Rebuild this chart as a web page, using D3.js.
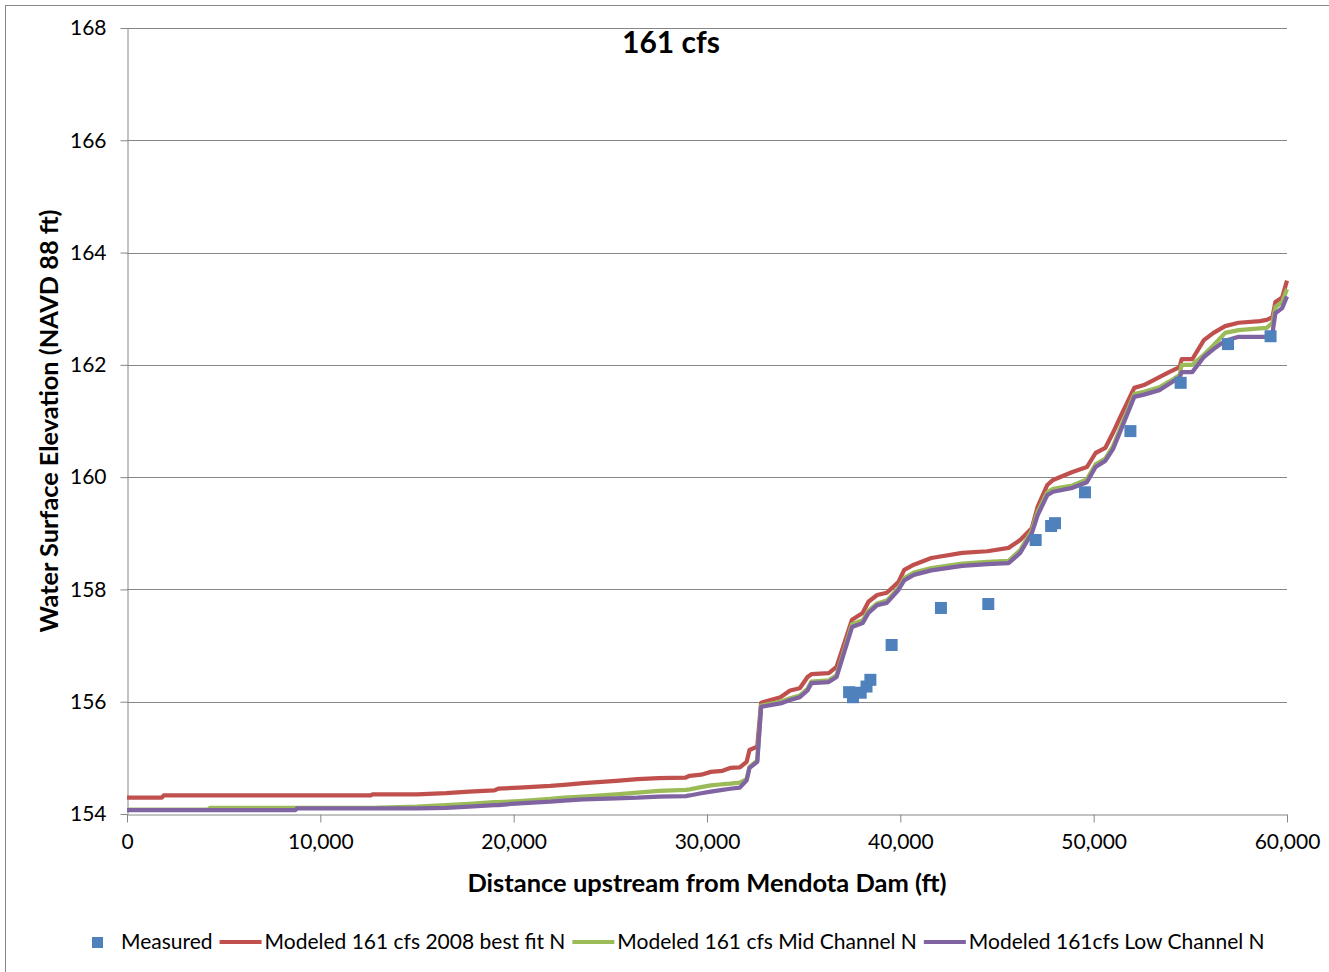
<!DOCTYPE html>
<html>
<head>
<meta charset="utf-8">
<script src="https://cdn.jsdelivr.net/npm/d3@7"></script>
<style>
  body { margin: 0; background: #fff; }
  text { font-family: Lato, "Open Sans", sans-serif; fill: #000; }
</style>
</head>
<body>
<svg width="1329" height="972"></svg>
<script>
// measured water surface points
var measuredDist = [37350, 37550, 37950, 38250, 38450, 39550, 42100, 44550, 47000, 47800, 48000, 49550, 51900, 54500, 56950, 59150];
var measuredElev = [156.17, 156.08, 156.16, 156.27, 156.39, 157.01, 157.67, 157.74, 158.88, 159.13, 159.18, 159.73, 160.82, 161.68, 162.37, 162.51];

// model stations (ft upstream of dam)
var stations = [0, 1800, 1900, 4200, 4300, 8700, 8800, 12600, 12700, 15000, 16500, 17700, 19000, 19200, 20300, 21900,
  22600, 23600, 25300, 26400, 27500, 28900, 29100, 29700, 30200, 30800, 31200, 31700, 32050, 32200, 32600, 32800,
  33800, 34300, 34800, 35200, 35400, 36300, 36700, 37500, 38050, 38350, 38800, 39300, 39900, 40200, 40700, 41600,
  43200, 44500, 45600, 46200, 46800, 47100, 47600, 47900, 48900, 49650, 50100, 50600, 51000, 51350, 52100, 52600,
  53400, 53900, 54450, 54550, 55100, 55700, 56200, 56800, 57500, 58600, 58950, 59250, 59400, 59750, 60000];

var bestFit = [154.29, 154.29, 154.33, 154.33, 154.33, 154.33, 154.33, 154.33, 154.35, 154.35, 154.37, 154.40, 154.42, 154.45, 154.47, 154.50,
  154.52, 154.55, 154.59, 154.62, 154.64, 154.65, 154.68, 154.70, 154.75, 154.77, 154.82, 154.83, 154.93, 155.14, 155.20, 155.98,
  156.08, 156.20, 156.24, 156.44, 156.49, 156.51, 156.62, 157.46, 157.58, 157.78, 157.90, 157.94, 158.13, 158.35, 158.44, 158.56,
  158.65, 158.68, 158.74, 158.88, 159.09, 159.47, 159.86, 159.95, 160.09, 160.18, 160.43, 160.52, 160.79, 161.05, 161.59, 161.64,
  161.78, 161.87, 161.96, 162.10, 162.10, 162.44, 162.57, 162.69, 162.75, 162.78, 162.80, 162.85, 163.12, 163.20, 163.50];

var midChannel = [154.08, 154.08, 154.08, 154.08, 154.11, 154.11, 154.11, 154.11, 154.11, 154.13, 154.16, 154.18, 154.21, 154.21, 154.23, 154.27,
  154.29, 154.31, 154.35, 154.38, 154.41, 154.43, 154.44, 154.48, 154.51, 154.53, 154.54, 154.56, 154.62, 154.84, 154.95, 155.93,
  156.00, 156.06, 156.11, 156.23, 156.36, 156.38, 156.47, 157.38, 157.45, 157.62, 157.75, 157.80, 158.02, 158.20, 158.30, 158.38,
  158.46, 158.49, 158.51, 158.70, 159.05, 159.38, 159.73, 159.79, 159.85, 159.96, 160.23, 160.33, 160.55, 160.85, 161.48, 161.52,
  161.60, 161.70, 161.82, 162.00, 162.00, 162.18, 162.35, 162.57, 162.62, 162.65, 162.66, 162.75, 163.03, 163.12, 163.35];

var lowChannel = [154.07, 154.07, 154.07, 154.07, 154.07, 154.07, 154.10, 154.10, 154.10, 154.10, 154.11, 154.13, 154.16, 154.16, 154.19, 154.22,
  154.24, 154.26, 154.28, 154.29, 154.31, 154.32, 154.33, 154.37, 154.40, 154.43, 154.45, 154.47, 154.60, 154.82, 154.93, 155.91,
  155.97, 156.03, 156.08, 156.20, 156.33, 156.35, 156.44, 157.33, 157.40, 157.58, 157.72, 157.76, 157.99, 158.16, 158.26, 158.34,
  158.42, 158.45, 158.47, 158.65, 159.00, 159.32, 159.68, 159.74, 159.81, 159.91, 160.18, 160.29, 160.50, 160.79, 161.43, 161.47,
  161.55, 161.66, 161.78, 161.87, 161.87, 162.14, 162.28, 162.43, 162.50, 162.50, 162.50, 162.57, 162.92, 163.01, 163.22];

var xTicks = [0, 10000, 20000, 30000, 40000, 50000, 60000];
var yTicks = [154, 156, 158, 160, 162, 164, 166, 168];

var seriesNames = ["Measured", "Modeled 161 cfs 2008 best fit N", "Modeled 161 cfs Mid Channel N", "Modeled 161cfs Low Channel N"];
var seriesColors = ["#4F81BD", "#C0504D", "#9BBB59", "#8064A2"];

var svg = d3.select("svg");
var axisColor = "#868686";

// chart border (only top and left fall inside the picture)
svg.append("rect").attr("x", 5.5).attr("y", 5.5).attr("width", 1400).attr("height", 1000)
  .attr("fill", "none").attr("stroke", axisColor).attr("stroke-width", 1);

var x = d3.scaleLinear().domain([0, 60000]).range([127, 1287]);
var y = d3.scaleLinear().domain([154, 168]).range([814, 28]);

// gridlines
svg.append("g").selectAll("line").data(yTicks.slice(1)).join("line")
  .attr("x1", x(0)).attr("x2", x(60000))
  .attr("y1", function (d) { return Math.round(y(d)) + 0.5; })
  .attr("y2", function (d) { return Math.round(y(d)) + 0.5; })
  .attr("stroke", axisColor).attr("stroke-width", 1);

var xAxis = svg.append("g").attr("transform", "translate(0," + (y(154) + 0.5) + ")")
  .call(d3.axisBottom(x).tickValues(xTicks).tickSize(8).tickSizeOuter(0).tickPadding(12)
    .tickFormat(d3.format(",")));
var yAxis = svg.append("g").attr("transform", "translate(" + (x(0) + 0.5) + ",0)")
  .call(d3.axisLeft(y).tickValues(yTicks).tickSize(7).tickSizeOuter(0).tickPadding(14));

[xAxis, yAxis].forEach(function (a) {
  a.selectAll("path, line").attr("stroke", axisColor);
  a.selectAll("text").style("font-size", "21px").attr("fill", "#000");
});

// modeled lines
var line = d3.line()
  .x(function (d) { return x(d[0]); })
  .y(function (d) { return y(d[1]); });

var modeled = [bestFit, midChannel, lowChannel];
modeled.forEach(function (vals, i) {
  var pts = stations.map(function (s, j) { return [s, vals[j]]; });
  svg.append("path").datum(pts)
    .attr("d", line)
    .attr("fill", "none")
    .attr("stroke", seriesColors[i + 1])
    .attr("stroke-width", 4.25)
    .attr("stroke-linejoin", "round");
});

// measured markers
var sq = 12;
svg.append("g").selectAll("rect").data(measuredDist).join("rect")
  .attr("x", function (d) { return x(d) - sq / 2; })
  .attr("y", function (d, i) { return y(measuredElev[i]) - sq / 2; })
  .attr("width", sq).attr("height", sq)
  .attr("fill", seriesColors[0]);

// title and axis titles
svg.append("text").attr("x", 671).attr("y", 53).attr("text-anchor", "middle")
  .style("font-size", "30px").style("font-weight", "bold").text("161 cfs");

svg.append("text").attr("x", 707).attr("y", 892).attr("text-anchor", "middle")
  .style("font-size", "25.5px").style("font-weight", "bold")
  .text("Distance upstream from Mendota Dam (ft)");

svg.append("text").attr("transform", "translate(58,421) rotate(-90)").attr("text-anchor", "middle")
  .style("font-size", "25.3px").style("font-weight", "bold")
  .text("Water Surface Elevation (NAVD 88 ft)");

// legend
var legend = svg.append("g");
var lx = 92, ly = 942;
seriesNames.forEach(function (name, i) {
  if (i === 0) {
    legend.append("rect").attr("x", lx).attr("y", ly - 5).attr("width", 11).attr("height", 11)
      .attr("fill", seriesColors[0]);
    lx += 29;
  } else {
    legend.append("line").attr("x1", lx).attr("x2", lx + 42).attr("y1", ly).attr("y2", ly)
      .attr("stroke", seriesColors[i]).attr("stroke-width", 4);
    lx += 45;
  }
  var t = legend.append("text").attr("x", lx).attr("y", ly + 7)
    .style("font-size", "21px").text(name);
  lx += t.node().getComputedTextLength() + 7;
});
</script>
</body>
</html>
